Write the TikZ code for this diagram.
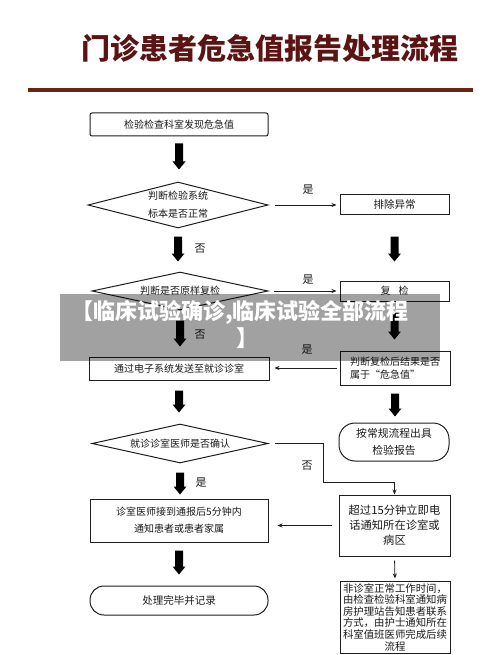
\documentclass[tikz,border=0pt]{standalone}
\usepackage{fontspec}
\setmainfont{Noto Sans CJK SC}
\newfontfamily\cjkb{Noto Sans CJK SC}
\usetikzlibrary{shapes.geometric,arrows.meta,calc}
\definecolor{titlered}{HTML}{5B1414}
\definecolor{rulered}{HTML}{6A2416}
\definecolor{boxline}{HTML}{1E1E1E}
\definecolor{txt}{HTML}{1A1A1A}
\newcommand\fatarrow[2]{\fill[black] let \p1=(#1), \p2=(#2) in
  (\x1-4pt,\y1) -- (\x1+4pt,\y1) -- (\x1+4pt,\y2+8pt) -- (\x1+6.5pt,\y2+8pt)
  -- (\x1,\y2) -- (\x1-6.5pt,\y2+8pt) -- (\x1-4pt,\y2+8pt) -- cycle;}
\begin{document}
\begin{tikzpicture}[x=1pt,y=-1pt,
  box/.style={draw=boxline, line width=1pt, inner sep=0pt, align=center, text=txt,
    font=\fontsize{10}{17}\selectfont},
  dia/.style={box, shape=diamond},
  pill/.style={box, rounded corners=#1},
  thinarrow/.style={draw=boxline, line width=0.8pt, -{Stealth[length=5pt,width=4pt]}},
  lab/.style={text=txt, font=\fontsize{11}{11}\selectfont, inner sep=0pt}]
\useasboundingbox (0,0) rectangle (500,655);
\fill[white] (0,0) rectangle (500,655);

% title
\node[text=titlered, font=\cjkb\bfseries\fontsize{29}{29}\selectfont, inner sep=0pt] (title) at (269.5,48) {门诊患者危急值报告处理流程};
\fill[rulered] (28,88) rectangle (473,92);

% left column
\node[box, rounded corners=2pt, minimum width=178pt, minimum height=23pt] (b1) at (179,124.5) {检验检查科室发现危急值};
\node[dia, aspect=3.9, minimum width=180pt, minimum height=46pt, font=\fontsize{10}{18}\selectfont] (d1) at (178,205) {判断检验系统\\标本是否正常};
\node[dia, aspect=4.6, minimum width=176pt, minimum height=38pt] (d2) at (180,291) {判断是否原样复检};
\node[box, minimum width=180pt, minimum height=23pt] (b4) at (179,368.5) {通过电子系统发送至就诊诊室};
\node[dia, aspect=4.5, minimum width=176pt, minimum height=39pt] (d3) at (180,443.5) {就诊诊室医师是否确认};
\node[box, minimum width=178pt, minimum height=43pt] (b6) at (179,520.5) {诊室医师接到通报后5分钟内\\通知患者或患者家属};
\node[pill=14pt, minimum width=178pt, minimum height=29pt, font=\fontsize{10.5}{12}\selectfont] (p2) at (179,600.5) {处理完毕并记录};

% right column
\node[box, minimum width=109pt, minimum height=20pt, font=\fontsize{10.5}{12}\selectfont] (b2) at (394.5,204) {排除异常};
\node[box, minimum width=109pt, minimum height=20pt] (b3) at (394.5,291) {复\hspace{8pt}检};
\node[box, minimum width=110pt, minimum height=34pt, align=left, font=\fontsize{10}{13}\selectfont] (b5) at (395,368) {判断复检后结果是否\\属于“危急值”};
\node[pill=16pt, minimum width=110pt, minimum height=38pt, font=\fontsize{10.8}{17}\selectfont] (p1) at (394,442) {按常规流程出具\\检验报告};
\node[box, minimum width=111pt, minimum height=61pt, font=\fontsize{11.3}{15}\selectfont] (b7) at (394.5,525.5) {超过15分钟立即电\\话通知所在诊室或\\病区};
\node[box, minimum width=110pt, minimum height=72pt, font=\fontsize{10.4}{11.6}\selectfont] (b8) at (395,617) {非诊室正常工作时间，\\由检查检验科室通知病\\房护理站告知患者联系\\方式，由护士通知所在\\科室值班医师完成后续\\流程};

% fat arrows
\fatarrow{$(b1.south)+(0,7)$}{$(d1.north)+(0,-12)$}
\fatarrow{$(d1.south)+(0,8)$}{$(d2.north)+(0,-10)$}
\fatarrow{$(d2.south)+(0,10)$}{$(b4.north)+(0,-10)$}
\fatarrow{$(b4.south)+(0,10)$}{$(d3.north)+(0,-11)$}
\fatarrow{$(d3.south)+(0,9)$}{$(b6.north)+(0,-4)$}
\fatarrow{$(b6.south)+(0,8)$}{$(p2.north)+(0,-11)$}
\fatarrow{$(b2.south)+(0,22)$}{$(b3.north)+(0,-19)$}
\fatarrow{$(b3.south)+(0,11)$}{$(b5.north)+(0,-11)$}
\fatarrow{$(b5.south)+(0,8)$}{$(p1.north)+(0,-6)$}

% thin arrows
\draw[thinarrow, shorten <=6pt, shorten >=3pt] (d1.east) -- (d1.east -| b2.west);
\draw[thinarrow, shorten <=5pt, shorten >=3pt] (d2.east) -- (d2.east -| b3.west);
\draw[thinarrow, shorten <=3pt, shorten >=5pt] (b5.west) -- (b5.west -| b4.east);
\coordinate (k1) at (323,443.5);
\coordinate (k2) at (323,482);
\draw[thinarrow, shorten <=6pt] (d3.east) -- (k1) -- (k2) -| (b7.north);
\draw[thinarrow, shorten <=7pt, shorten >=9pt] (b7.west) -- (b7.west -| b6.east);
\draw[thinarrow, shorten <=4pt, shorten >=2pt] (b7.south) -- (b8.north);

% labels
\node[lab] (l1) at (308,190) {是};
\node[lab] (l2) at (200,249) {否};
\node[lab] (l3) at (308,280) {是};
\node[lab] (l4) at (200,335) {否};
\node[lab] (l5) at (307,350) {是};
\node[lab] (l6) at (307,466) {否};
\node[lab] (l7) at (201,483) {是};

% watermark band
\fill[black, opacity=0.37] (60,294) rectangle (440,361);
\node[anchor=west, inner sep=0pt, text=white, font=\cjkb\bfseries\fontsize{22}{22}\selectfont] (w1) at (71,312) {【临床试验确诊,临床试验全部流程};
\node[anchor=west, inner sep=0pt, text=white, font=\cjkb\bfseries\fontsize{22}{22}\selectfont] (w2) at (236,338) {】};
\end{tikzpicture}
\end{document}
